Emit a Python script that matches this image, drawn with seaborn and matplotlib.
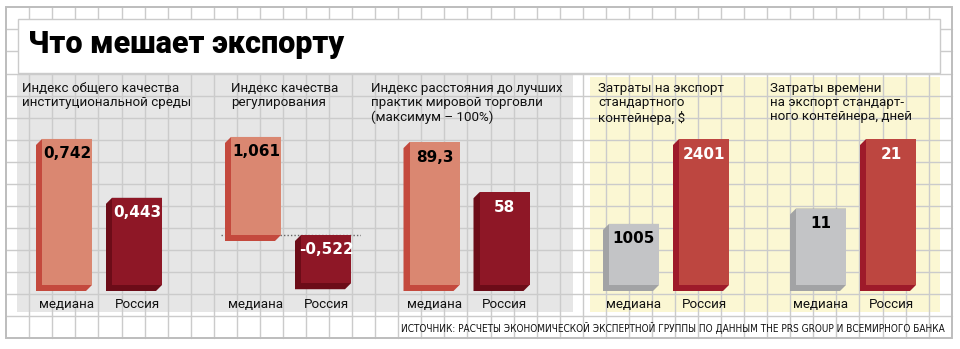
import matplotlib
matplotlib.use("Agg")
import matplotlib.pyplot as plt
from matplotlib.patches import Rectangle, Polygon
from matplotlib.transforms import IdentityTransform
import seaborn as sns

# ---- data -------------------------------------------------------------
categories = ["медиана", "Россия"]
inst_quality = [0.742, 0.443]        # институциональная среда
reg_quality = [1.061, -0.522]        # качество регулирования
trade_distance = [89.3, 58]          # расстояние до лучших практик, %
export_cost = [1005, 2401]           # затраты на экспорт контейнера, $
export_days = [11, 21]               # затраты времени, дней

panel_titles = [
    "Индекс общего качества\nинституциональной среды",
    "Индекс качества\nрегулирования",
    "Индекс расстояния до лучших\nпрактик мировой торговли\n(максимум – 100%)",
    "Затраты на экспорт\nстандартного\nконтейнера, $",
    "Затраты времени\nна экспорт стандарт-\nного контейнера, дней",
]
title = "Что мешает экспорту"
source = ("ИСТОЧНИК: РАСЧЕТЫ ЭКОНОМИЧЕСКОЙ ЭКСПЕРТНОЙ ГРУППЫ ПО ДАННЫМ "
          "THE PRS GROUP И ВСЕМИРНОГО БАНКА")

# ---- styles -----------------------------------------------------------
W, H = 960, 349
SALMON = ("#DA8771", "#C4493D", "black")
DARKRED = ("#8E1726", "#6C0C18", "white")
GRAY = ("#C3C4C6", "#A2A3A5", "black")
RED = ("#BD4640", "#9E1A2A", "white")
GRID = "#CBCBCB"

sns.set_style("white")
plt.rcParams["font.family"] = ["Roboto", "DejaVu Sans"]


def fig_rect(x0, y_top, w, h):
    return [x0 / W, 1 - (y_top + h) / H, w / W, h / H]


def fmt_dec3(v):
    return f"{v:.3f}".replace(".", ",")


def fmt_g(v):
    return f"{v:g}".replace(".", ",")


panels = [
    dict(values=inst_quality, left=32, base=285, scale=196.8,
         styles=[SALMON, DARKRED], fmt=fmt_dec3, tx=22),
    dict(values=reg_quality, left=221, base=235, scale=92.4,
         styles=[SALMON, DARKRED], fmt=fmt_dec3, tx=231, zero_line=True),
    dict(values=trade_distance, left=399.5, base=285, scale=1.6,
         styles=[SALMON, DARKRED], fmt=fmt_g, tx=371),
    dict(values=export_cost, left=599, base=285, scale=0.0608,
         styles=[GRAY, RED], fmt=fmt_g, tx=598),
    dict(values=export_days, left=786, base=285, scale=6.95,
         styles=[GRAY, RED], fmt=fmt_g, tx=770),
]

fig = plt.figure(figsize=(W / 100, H / 100), dpi=100)
fig.patch.set_facecolor("white")

# ---- background: squared paper, panels, title box ---------------------
bg = fig.add_axes([0, 0, 1, 1])
bg.set_xlim(0, W)
bg.set_ylim(H, 0)
bg.axis("off")

gx0, gdx, gy0, gdy = 29.3, 23.06, 7.3, 22.07
left_b, right_b = gx0 - gdx, gx0 + 40 * gdx
top_b, bottom_b = gy0, gy0 + 15 * gdy

bg.add_patch(Rectangle((17, 75), 556, 237, facecolor="#E6E6E6",
                       edgecolor="none", zorder=1))
bg.add_patch(Rectangle((590, 77), 350, 235, facecolor="#FBF7D3",
                       edgecolor="none", zorder=1))
for k in range(40):
    x = gx0 + k * gdx
    bg.plot([x, x], [top_b, bottom_b], color=GRID, lw=1.0, zorder=2)
for k in range(1, 15):
    y = gy0 + k * gdy
    bg.plot([left_b, right_b], [y, y], color=GRID, lw=1.0, zorder=2)
bg.add_patch(Rectangle((left_b, top_b), right_b - left_b, bottom_b - top_b,
                       facecolor="none", edgecolor="#BDBDBD", lw=1.4, zorder=3))
bg.add_patch(Rectangle((18.3, 19.3), 922, 53.4, facecolor="white",
                       edgecolor=GRID, lw=1.0, zorder=4))

bg.text(28, 53, title, fontsize=22, fontweight="black", va="baseline",
        ha="left", color="black", zorder=5)
for p, t in zip(panels, panel_titles):
    bg.text(p["tx"], 82, t, fontsize=9.6, fontweight="normal", va="top",
            ha="left", linespacing=1.12, color="#111111", zorder=5)
bg.text(945, 328, source, fontsize=7.2, ha="right", va="center",
        family="DejaVu Sans", stretch="condensed", color="#111111",
        zorder=5)

# ---- bar panels -------------------------------------------------------
y_top, y_bot = 125, 295
depth = 6
for p in panels:
    ax = fig.add_axes(fig_rect(p["left"], y_top, 140, y_bot - y_top))
    ax.patch.set_visible(False)
    fronts = [s[0] for s in p["styles"]]
    sns.barplot(x=categories, y=p["values"], hue=categories, palette=fronts,
                width=50 / 70, saturation=1, linewidth=0, legend=False,
                ax=ax, zorder=2)
    ax.set_xlim(-0.5, 1.5)
    ax.set_ylim(-(y_bot - p["base"]) / p["scale"], (p["base"] - y_top) / p["scale"])
    for side in ax.spines.values():
        side.set_visible(False)
    ax.set_yticks([])
    ax.set_ylabel("")
    ax.set_xlabel("")
    ax.tick_params(axis="x", length=0, pad=2, labelsize=9.6)
    ax.set_xticks(range(len(categories)))
    ax.set_xticklabels(categories, color="#111111")

    if p.get("zero_line"):
        ax.axhline(0, color="#666666", lw=1.0, ls=(0, (1, 1.5)), zorder=1)

    # extruded side and bottom faces of each bar
    for patch, (front, shade, txt), v, i in zip(ax.patches, p["styles"],
                                                p["values"], range(2)):
        x0, w = patch.get_x(), patch.get_width()
        y0, h = patch.get_y(), patch.get_height()
        (X0, Y0), (X1, Y1) = ax.transData.transform(
            [(x0, min(y0, y0 + h)), (x0 + w, max(y0, y0 + h))])
        verts = [(X0, Y1), (X1, Y1), (X1, Y0), (X1 - depth, Y0 - depth),
                 (X0 - depth, Y0 - depth), (X0 - depth, Y1 - depth)]
        ax.add_artist(Polygon(verts, closed=True, transform=IdentityTransform(),
                              facecolor=shade, edgecolor="none", zorder=1.5,
                              clip_on=False))
        ax.annotate(p["fmt"](v), xy=(i, max(v, 0)), xytext=(0, -15),
                    textcoords="offset pixels", ha="center", va="center",
                    fontsize=11, fontweight="bold", color=txt,
                    family="DejaVu Sans", zorder=3)

fig.savefig("out.png", dpi=100)
